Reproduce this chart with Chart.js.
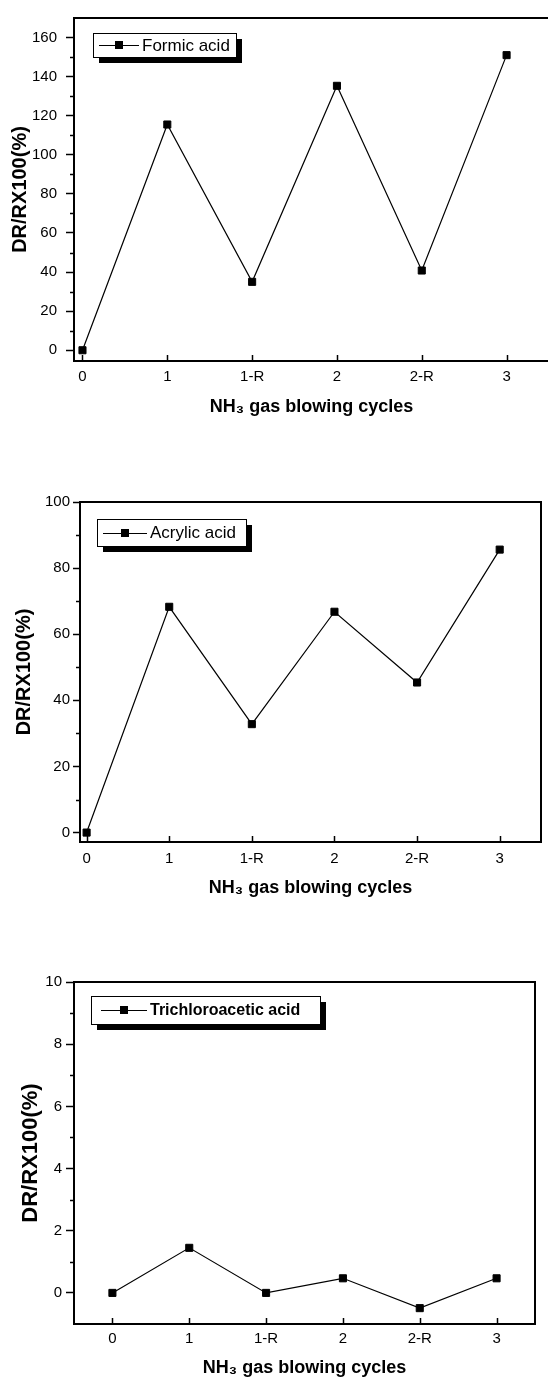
<!DOCTYPE html>
<html><head><meta charset="utf-8">
<script src="https://cdn.jsdelivr.net/npm/chart.js@4.4.0/dist/chart.umd.min.js"></script>
<style>
html,body{margin:0;padding:0;background:#fff;overflow:hidden;width:548px;height:1378px;position:relative;}
canvas{position:absolute;left:0;}
</style></head><body>
<canvas id="c1" width="560" height="420" style="top:0px"></canvas>
<canvas id="c2" width="548" height="425" style="top:480px"></canvas>
<canvas id="c3" width="548" height="428" style="top:960px"></canvas>
<script>
// ---- data ----
const categories = ['0', '1', '1-R', '2', '2-R', '3'];
const formicAcid = [0, 115.5, 35, 135.3, 40.8, 151];
const acrylicAcid = [0, 68.3, 32.8, 66.8, 45.4, 85.6];
const trichloroaceticAcid = [0, 1.45, 0, 0.47, -0.49, 0.47];
const yMajorFormic = [0, 20, 40, 60, 80, 100, 120, 140, 160];
const yMinorFormic = [10, 30, 50, 70, 90, 110, 130, 150];
const yMajorAcrylic = [0, 20, 40, 60, 80, 100];
const yMinorAcrylic = [10, 30, 50, 70, 90];
const yMajorTrichloro = [0, 2, 4, 6, 8, 10];
const yMinorTrichloro = [1, 3, 5, 7, 9];
const xTitle = 'NH\u2083 gas blowing cycles';
const yTitle = 'DR/RX100(%)';

Chart.defaults.font.family = '"Liberation Sans", Arial, Helvetica, sans-serif';
Chart.defaults.color = '#000';

const framePlugin = {
  id: 'frameLegend',
  afterDraw(chart, args, o) {
    const ctx = chart.ctx, ca = chart.chartArea;
    const xs = chart.scales.x, ys = chart.scales.y;
    ctx.save();
    ctx.strokeStyle = '#000';
    ctx.lineWidth = o.frameWidth;
    ctx.strokeRect(ca.left, ca.top, ca.right - ca.left, ca.bottom - ca.top);
    ctx.lineWidth = 1.5;
    ctx.beginPath();
    categories.forEach((c, i) => {
      const px = Math.round(xs.getPixelForValue(i)) + 0.5;
      ctx.moveTo(px, ca.bottom);
      ctx.lineTo(px, ca.bottom - 6);
    });
    o.yMinor.forEach(v => {
      const py = Math.round(ys.getPixelForValue(v)) + 0.5;
      ctx.moveTo(ca.left, py);
      ctx.lineTo(ca.left - 4, py);
    });
    ctx.stroke();
    const L = o.legend;
    const x = ca.left + L.dx, y = ca.top + L.dy;
    ctx.fillStyle = '#000';
    ctx.fillRect(x + 6, y + 6, L.w, L.h);
    ctx.fillStyle = '#fff';
    ctx.fillRect(x, y, L.w, L.h);
    ctx.lineWidth = 1;
    ctx.strokeStyle = '#000';
    ctx.strokeRect(x + 0.5, y + 0.5, L.w, L.h);
    const cy = y + L.h / 2;
    ctx.beginPath();
    ctx.moveTo(x + L.l0, Math.round(cy) + 0.5);
    ctx.lineTo(x + L.l1, Math.round(cy) + 0.5);
    ctx.stroke();
    ctx.fillStyle = '#000';
    const sc = x + (L.l0 + L.l1) / 2;
    ctx.fillRect(Math.round(sc - 4), Math.round(cy - 4), 8, 8);
    ctx.font = (L.bold ? 'bold ' : '') + L.size + 'px "Liberation Sans", Arial, sans-serif';
    ctx.textBaseline = 'middle';
    ctx.textAlign = 'left';
    ctx.fillText(chart.data.datasets[0].label, x + L.tx, cy + 1);
    ctx.restore();
  }
};

function makeChart(id, label, values, cfg) {
  new Chart(document.getElementById(id), {
    type: 'line',
    data: {
      datasets: [{
        label: label,
        data: values.map((v, i) => ({ x: i, y: v })),
        borderColor: '#000',
        borderWidth: 1.2,
        backgroundColor: '#000',
        pointStyle: 'rect',
        pointRadius: 5,
        pointBorderWidth: 1,
        pointBackgroundColor: '#000',
        pointBorderColor: '#000',
        tension: 0
      }]
    },
    options: {
      responsive: false,
      animation: false,
      events: [],
      layout: { padding: cfg.pad },
      plugins: {
        legend: { display: false },
        tooltip: { enabled: false },
        frameLegend: { frameWidth: cfg.frameWidth, yMinor: cfg.yMinor, legend: cfg.legend }
      },
      scales: {
        x: {
          type: 'linear',
          min: cfg.xMin, max: cfg.xMax,
          afterBuildTicks: s => { s.ticks = categories.map((c, i) => ({ value: i })); },
          afterFit: s => { s.height = cfg.xHeight; },
          ticks: {
            callback: v => categories[v],
            padding: cfg.xTickPad,
            font: { size: 15 },
            color: '#000',
            maxRotation: 0, autoSkip: false
          },
          grid: { display: true, drawOnChartArea: false, drawTicks: false },
          border: { display: false },
          title: {
            display: true, text: xTitle,
            font: { size: 18, weight: 'bold' },
            color: '#000',
            padding: { top: 0, bottom: cfg.xTitlePad }
          }
        },
        y: {
          min: cfg.yMin, max: cfg.yMax,
          afterBuildTicks: s => { s.ticks = cfg.yMajor.map(v => ({ value: v })); },
          afterFit: s => { s.width = cfg.yWidth; },
          ticks: {
            padding: cfg.yTickPad,
            font: { size: 15 },
            color: '#000'
          },
          grid: {
            display: true, drawOnChartArea: false, drawTicks: true,
            tickLength: cfg.yTickLen, tickColor: '#000', tickWidth: 1.5
          },
          border: { display: false },
          title: {
            display: true, text: yTitle,
            font: { size: cfg.yTitleSize, weight: 'bold' },
            color: '#000',
            padding: { top: cfg.yTitlePad, bottom: 0 }
          }
        }
      }
    },
    plugins: [framePlugin]
  });
}

makeChart('c1', 'Formic acid', formicAcid, {
  pad: { top: 13, right: 11, bottom: 0, left: 0 },
  yWidth: 74, xHeight: 59,
  xMin: -0.1, xMax: 5.5, yMin: -5.5, yMax: 170,
  yMajor: yMajorFormic, yMinor: yMinorFormic,
  yTickLen: 8, yTickPad: 9, yTitlePad: 8, yTitleSize: 20,
  xTickPad: 7, xTitlePad: 2,
  frameWidth: 2,
  legend: { dx: 19, dy: 15, w: 143, h: 24, l0: 6, l1: 46, tx: 49, size: 17, bold: false }
});

makeChart('c2', 'Acrylic acid', acrylicAcid, {
  pad: { top: 22, right: 7, bottom: 0, left: 0 },
  yWidth: 80, xHeight: 63,
  xMin: -0.08, xMax: 5.5, yMin: -2.85, yMax: 100,
  yMajor: yMajorAcrylic, yMinor: yMinorAcrylic,
  yTickLen: 7, yTickPad: 3, yTitlePad: 12, yTitleSize: 20,
  xTickPad: 8, xTitlePad: 6,
  frameWidth: 2,
  legend: { dx: 17, dy: 17, w: 149, h: 27, l0: 6, l1: 50, tx: 53, size: 17, bold: false }
});

makeChart('c3', 'Trichloroacetic acid', trichloroaceticAcid, {
  pad: { top: 22, right: 13, bottom: 0, left: 0 },
  yWidth: 74, xHeight: 64,
  xMin: -0.5, xMax: 5.5, yMin: -1, yMax: 10,
  yMajor: yMajorTrichloro, yMinor: yMinorTrichloro,
  yTickLen: 8, yTickPad: 4, yTitlePad: 18, yTitleSize: 22,
  xTickPad: 6, xTitlePad: 9,
  frameWidth: 2,
  legend: { dx: 17, dy: 14, w: 229, h: 28, l0: 10, l1: 56, tx: 59, size: 16, bold: true }
});
</script>
</body></html>
